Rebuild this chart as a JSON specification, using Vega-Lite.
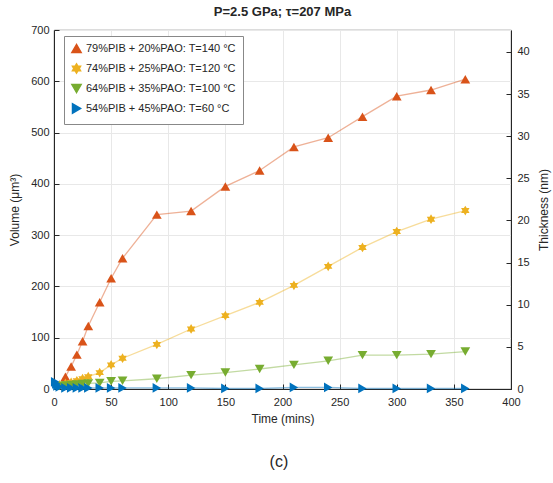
{
  "$schema": "https://vega.github.io/schema/vega-lite/v6.json",
  "padding": {"left": 8, "top": 5, "right": 2, "bottom": 5},
  "config": {
    "font": "Liberation Sans",
    "view": {"stroke": "#262626", "strokeWidth": 0.8},
    "axis": {"labelColor": "#262626", "titleColor": "#262626", "labelFontSize": 11, "titleFontSize": 12, "titleFontWeight": "normal", "domainColor": "#262626", "tickColor": "#262626", "gridColor": "#e8e8e8", "labelFlush": false}
  },
  "title": {"text": "(c)", "orient": "bottom", "anchor": "middle", "fontSize": 16, "fontWeight": "normal", "color": "#262626", "offset": 30},
  "vconcat": [
    {
      "title": {"text": "P=2.5 GPa; τ=207 MPa", "fontSize": 13, "fontWeight": "bold", "color": "#262626", "offset": 5},
      "width": 457,
      "height": 359,
      "data": {"values": [
        {"s": "79%PIB + 20%PAO: T=140 °C", "t": 10, "v": 24},
        {"s": "79%PIB + 20%PAO: T=140 °C", "t": 15, "v": 44},
        {"s": "79%PIB + 20%PAO: T=140 °C", "t": 20, "v": 67},
        {"s": "79%PIB + 20%PAO: T=140 °C", "t": 25, "v": 93},
        {"s": "79%PIB + 20%PAO: T=140 °C", "t": 30, "v": 123},
        {"s": "79%PIB + 20%PAO: T=140 °C", "t": 40, "v": 169},
        {"s": "79%PIB + 20%PAO: T=140 °C", "t": 50, "v": 216},
        {"s": "79%PIB + 20%PAO: T=140 °C", "t": 60, "v": 255},
        {"s": "79%PIB + 20%PAO: T=140 °C", "t": 90, "v": 340},
        {"s": "79%PIB + 20%PAO: T=140 °C", "t": 120, "v": 347},
        {"s": "79%PIB + 20%PAO: T=140 °C", "t": 150, "v": 395},
        {"s": "79%PIB + 20%PAO: T=140 °C", "t": 180, "v": 426},
        {"s": "79%PIB + 20%PAO: T=140 °C", "t": 210, "v": 472},
        {"s": "79%PIB + 20%PAO: T=140 °C", "t": 240, "v": 490},
        {"s": "79%PIB + 20%PAO: T=140 °C", "t": 270, "v": 531},
        {"s": "79%PIB + 20%PAO: T=140 °C", "t": 300, "v": 571},
        {"s": "79%PIB + 20%PAO: T=140 °C", "t": 330, "v": 583},
        {"s": "79%PIB + 20%PAO: T=140 °C", "t": 360, "v": 604},
        {"s": "74%PIB + 25%PAO: T=120 °C", "t": 5, "v": 8},
        {"s": "74%PIB + 25%PAO: T=120 °C", "t": 10, "v": 11},
        {"s": "74%PIB + 25%PAO: T=120 °C", "t": 15, "v": 13},
        {"s": "74%PIB + 25%PAO: T=120 °C", "t": 20, "v": 16},
        {"s": "74%PIB + 25%PAO: T=120 °C", "t": 25, "v": 20},
        {"s": "74%PIB + 25%PAO: T=120 °C", "t": 30, "v": 24},
        {"s": "74%PIB + 25%PAO: T=120 °C", "t": 40, "v": 32},
        {"s": "74%PIB + 25%PAO: T=120 °C", "t": 50, "v": 47},
        {"s": "74%PIB + 25%PAO: T=120 °C", "t": 60, "v": 60},
        {"s": "74%PIB + 25%PAO: T=120 °C", "t": 90, "v": 87},
        {"s": "74%PIB + 25%PAO: T=120 °C", "t": 120, "v": 117},
        {"s": "74%PIB + 25%PAO: T=120 °C", "t": 150, "v": 143},
        {"s": "74%PIB + 25%PAO: T=120 °C", "t": 180, "v": 169},
        {"s": "74%PIB + 25%PAO: T=120 °C", "t": 210, "v": 202},
        {"s": "74%PIB + 25%PAO: T=120 °C", "t": 240, "v": 239},
        {"s": "74%PIB + 25%PAO: T=120 °C", "t": 270, "v": 276},
        {"s": "74%PIB + 25%PAO: T=120 °C", "t": 300, "v": 307},
        {"s": "74%PIB + 25%PAO: T=120 °C", "t": 330, "v": 331},
        {"s": "74%PIB + 25%PAO: T=120 °C", "t": 360, "v": 348},
        {"s": "64%PIB + 35%PAO: T=100 °C", "t": 5, "v": 6},
        {"s": "64%PIB + 35%PAO: T=100 °C", "t": 10, "v": 7},
        {"s": "64%PIB + 35%PAO: T=100 °C", "t": 15, "v": 8},
        {"s": "64%PIB + 35%PAO: T=100 °C", "t": 20, "v": 9},
        {"s": "64%PIB + 35%PAO: T=100 °C", "t": 25, "v": 10},
        {"s": "64%PIB + 35%PAO: T=100 °C", "t": 30, "v": 11},
        {"s": "64%PIB + 35%PAO: T=100 °C", "t": 40, "v": 12},
        {"s": "64%PIB + 35%PAO: T=100 °C", "t": 50, "v": 15},
        {"s": "64%PIB + 35%PAO: T=100 °C", "t": 60, "v": 16},
        {"s": "64%PIB + 35%PAO: T=100 °C", "t": 90, "v": 20},
        {"s": "64%PIB + 35%PAO: T=100 °C", "t": 120, "v": 27},
        {"s": "64%PIB + 35%PAO: T=100 °C", "t": 150, "v": 32},
        {"s": "64%PIB + 35%PAO: T=100 °C", "t": 180, "v": 39},
        {"s": "64%PIB + 35%PAO: T=100 °C", "t": 210, "v": 47},
        {"s": "64%PIB + 35%PAO: T=100 °C", "t": 240, "v": 55},
        {"s": "64%PIB + 35%PAO: T=100 °C", "t": 270, "v": 66},
        {"s": "64%PIB + 35%PAO: T=100 °C", "t": 300, "v": 66},
        {"s": "64%PIB + 35%PAO: T=100 °C", "t": 330, "v": 68},
        {"s": "64%PIB + 35%PAO: T=100 °C", "t": 360, "v": 73},
        {"s": "54%PIB + 45%PAO: T=60 °C", "t": 1, "v": 14},
        {"s": "54%PIB + 45%PAO: T=60 °C", "t": 2, "v": 10},
        {"s": "54%PIB + 45%PAO: T=60 °C", "t": 3, "v": 6},
        {"s": "54%PIB + 45%PAO: T=60 °C", "t": 5, "v": 4},
        {"s": "54%PIB + 45%PAO: T=60 °C", "t": 10, "v": 2},
        {"s": "54%PIB + 45%PAO: T=60 °C", "t": 15, "v": 2},
        {"s": "54%PIB + 45%PAO: T=60 °C", "t": 20, "v": 2},
        {"s": "54%PIB + 45%PAO: T=60 °C", "t": 25, "v": 2},
        {"s": "54%PIB + 45%PAO: T=60 °C", "t": 30, "v": 2},
        {"s": "54%PIB + 45%PAO: T=60 °C", "t": 40, "v": 2},
        {"s": "54%PIB + 45%PAO: T=60 °C", "t": 50, "v": 2},
        {"s": "54%PIB + 45%PAO: T=60 °C", "t": 60, "v": 2},
        {"s": "54%PIB + 45%PAO: T=60 °C", "t": 90, "v": 2},
        {"s": "54%PIB + 45%PAO: T=60 °C", "t": 120, "v": 2},
        {"s": "54%PIB + 45%PAO: T=60 °C", "t": 150, "v": 1},
        {"s": "54%PIB + 45%PAO: T=60 °C", "t": 180, "v": 1},
        {"s": "54%PIB + 45%PAO: T=60 °C", "t": 210, "v": 3},
        {"s": "54%PIB + 45%PAO: T=60 °C", "t": 240, "v": 3},
        {"s": "54%PIB + 45%PAO: T=60 °C", "t": 270, "v": 1},
        {"s": "54%PIB + 45%PAO: T=60 °C", "t": 300, "v": 1},
        {"s": "54%PIB + 45%PAO: T=60 °C", "t": 330, "v": 1},
        {"s": "54%PIB + 45%PAO: T=60 °C", "t": 360, "v": 1}
      ]},
      "layer": [
        {
          "layer": [
            {
              "mark": {"type": "line", "strokeWidth": 1.3, "strokeOpacity": 0.45},
              "encoding": {
                "x": {"field": "t", "type": "quantitative"},
                "y": {"field": "v", "type": "quantitative"},
                "color": {"field": "s", "type": "nominal",
                  "scale": {"domain": ["79%PIB + 20%PAO: T=140 °C", "74%PIB + 25%PAO: T=120 °C", "64%PIB + 35%PAO: T=100 °C", "54%PIB + 45%PAO: T=60 °C"], "range": ["#D95319", "#EDB120", "#77AC30", "#0072BD"]}}
              }
            },
            {
              "mark": {"type": "point", "filled": true, "size": 95, "opacity": 1},
              "encoding": {
                "x": {"field": "t", "type": "quantitative", "title": "Time (mins)",
                  "scale": {"domain": [0, 400], "nice": false},
                  "axis": {"values": [0, 50, 100, 150, 200, 250, 300, 350, 400], "tickSize": -5, "labelPadding": 12, "titlePadding": 6}},
                "y": {"field": "v", "type": "quantitative", "title": "Volume (μm³)",
                  "scale": {"domain": [0, 700], "nice": false},
                  "axis": {"values": [0, 100, 200, 300, 400, 500, 600, 700], "tickSize": -5, "labelPadding": 10, "titlePadding": 9}},
                "color": {"field": "s", "type": "nominal",
                  "scale": {"domain": ["79%PIB + 20%PAO: T=140 °C", "74%PIB + 25%PAO: T=120 °C", "64%PIB + 35%PAO: T=100 °C", "54%PIB + 45%PAO: T=60 °C"], "range": ["#D95319", "#EDB120", "#77AC30", "#0072BD"]},
                  "legend": {"title": null, "orient": "none", "legendX": 10, "legendY": 6, "strokeColor": "#888888", "fillColor": "white", "padding": 7, "labelFontSize": 11, "labelColor": "#262626", "symbolSize": 85, "rowPadding": 4, "symbolOpacity": 1}},
                "shape": {"field": "s", "type": "nominal",
                  "scale": {"domain": ["79%PIB + 20%PAO: T=140 °C", "74%PIB + 25%PAO: T=120 °C", "64%PIB + 35%PAO: T=100 °C", "54%PIB + 45%PAO: T=60 °C"], "range": ["triangle-up", "M0,-1L0.289,-0.5L0.866,-0.5L0.577,0L0.866,0.5L0.289,0.5L0,1L-0.289,0.5L-0.866,0.5L-0.577,0L-0.866,-0.5L-0.289,-0.5Z", "triangle-down", "triangle-right"]},
                  "legend": {"title": null, "orient": "none", "legendX": 10, "legendY": 6}}
              }
            }
          ]
        },
        {
          "mark": {"type": "point", "opacity": 0},
          "encoding": {
            "x": {"field": "t", "type": "quantitative"},
            "y": {"datum": 0, "type": "quantitative",
              "scale": {"domain": [0, 42.6], "nice": false},
              "axis": {"title": "Thickness (nm)", "titleAngle": 270, "titleBaseline": "top", "orient": "right", "grid": false, "values": [0, 5, 10, 15, 20, 25, 30, 35, 40], "tickSize": -5, "labelPadding": 11, "titlePadding": 9}}
          }
        }
      ],
      "resolve": {"scale": {"y": "independent"}, "axis": {"y": "independent"}}
    }
  ]
}
